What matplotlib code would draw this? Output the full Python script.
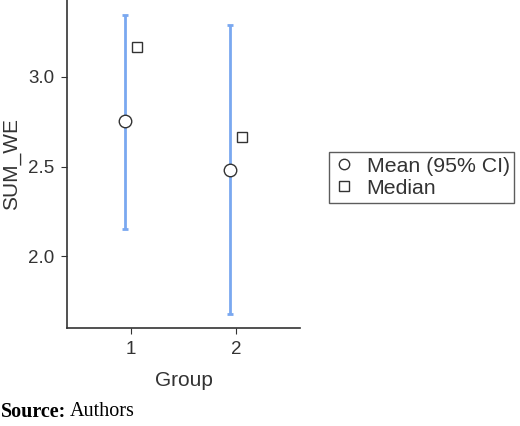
import matplotlib
matplotlib.use("Agg")
import matplotlib.pyplot as plt
from matplotlib.lines import Line2D

groups = [1, 2]
group_labels = ["1", "2"]
means = [2.754, 2.48]
ci_low = [2.152, 1.678]
ci_high = [3.346, 3.29]
medians = [3.166, 2.667]

plt.rcParams['font.family'] = ['Liberation Sans', 'DejaVu Sans']

fig = plt.figure(figsize=(5.2, 4.26), dpi=100)
ax = fig.add_axes([67/520, 1 - 328/426, (300-67)/520, 328/426])

blue = "#7aa8f0"
edge = "#333333"
xm = [g - 0.055 for g in groups]
xmed = [g + 0.055 for g in groups]
yerr = [[m - l for m, l in zip(means, ci_low)], [h - m for m, h in zip(means, ci_high)]]
ax.errorbar(xm, means, yerr=yerr, fmt='none', ecolor=blue, elinewidth=2, capsize=2.5, capthick=2, zorder=2)
ax.plot(xm, means, 'o', ms=9, mfc='white', mec=edge, mew=1, zorder=3)
ax.plot(xmed, medians, 's', ms=7, mfc='white', mec=edge, mew=1, zorder=3)

ax.set_xlim(0.39, 2.61)
ax.set_ylim(1.598, 3.43)
ax.set_xticks(groups)
ax.set_xticklabels(group_labels)
ax.set_yticks([2.0, 2.5, 3.0])
ax.set_yticklabels(["2.0", "2.5", "3.0"])
for s in ['top', 'right']:
    ax.spines[s].set_visible(False)
for s in ['left', 'bottom']:
    ax.spines[s].set_color('#333333')
    ax.spines[s].set_linewidth(1.2)
ax.tick_params(colors='#333333', labelsize=13.5, length=4, labelcolor='#333333', pad=5)
ax.set_xlabel("Group", fontsize=15, color='#333333', labelpad=10)
ax.set_ylabel("SUM_WE", fontsize=15, color='#333333', labelpad=5)

handles = [Line2D([], [], ls='none', marker='o', ms=7.5, mfc='white', mec=edge, mew=1),
           Line2D([], [], ls='none', marker='s', ms=6.5, mfc='white', mec=edge, mew=1)]
leg = fig.legend(handles, ["Mean (95% CI)", "Median"], loc='upper left',
                 bbox_to_anchor=(329/520, 1 - 152/426), fontsize=15.3, frameon=True,
                 fancybox=False, handlelength=1.0, handletextpad=0.55, borderpad=0.22,
                 labelspacing=0.15, borderaxespad=0)
leg.get_frame().set_edgecolor('#333333')
leg.get_frame().set_linewidth(1)
for t in leg.get_texts():
    t.set_color('#333333')

t1 = fig.text(1/520, 1 - 412/426, "Source:", fontsize=14.5, va='center', family='Liberation Serif', weight='bold')
fig.canvas.draw()
bb = t1.get_window_extent()
fig.text((bb.x1 + 4)/520, 1 - 412/426, "Authors", fontsize=14.5, va='center', family='Liberation Serif')

fig.savefig("out.png", dpi=100)
